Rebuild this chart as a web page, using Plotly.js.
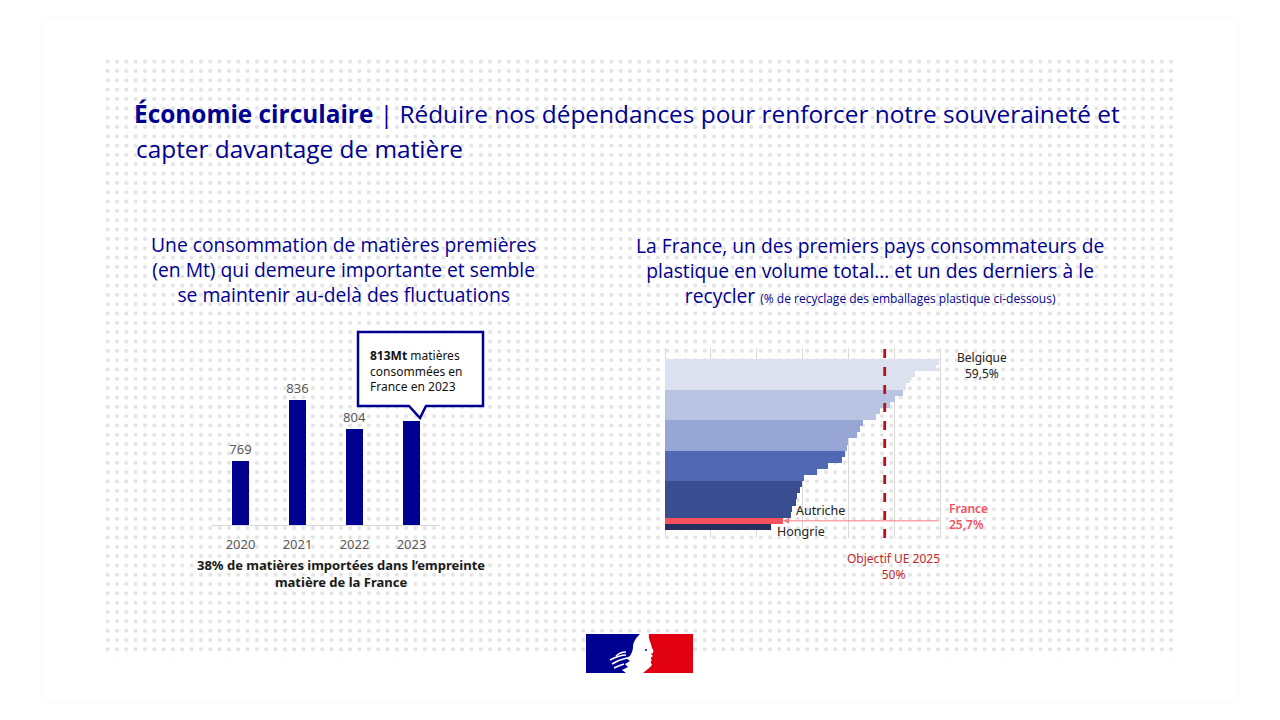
<!DOCTYPE html>
<html>
<head>
<meta charset="utf-8">
<script src="https://cdn.plot.ly/plotly-3.0.1.min.js"></script>
<style>
  html, body { margin: 0; padding: 0; background: #ffffff; }
  #wrap { position: relative; width: 1280px; height: 720px; overflow: hidden; background: #ffffff; }
  #frame { position: absolute; left: 44px; top: 20px; width: 1192px; height: 680px;
           box-shadow: 0 0 10px rgba(0,0,0,0.035); }
  #dots { position: absolute; left: 103px; top: 57px; width: 1074px; height: 600px;
          background-image: radial-gradient(circle at center, #e3e3e3 0, #e3e3e3 1.7px, rgba(255,255,255,0) 2.3px);
          background-size: 9.33px 9.33px; }
  #chart { position: absolute; left: 0; top: 0; width: 1280px; height: 720px; }
  #logo { position: absolute; left: 586px; top: 634px; width: 107px; height: 39px; }
</style>
</head>
<body>
<div id="wrap">
  <div id="frame"></div>
  <div id="dots"></div>
  <div id="chart"></div>
  <svg id="logo" viewBox="0 0 107 39" xmlns="http://www.w3.org/2000/svg">
    <rect x="0" y="0" width="107" height="39" fill="#ffffff"/>
    <path d="M0 0 L54 0 C50 4 47 8 47 13 C47 17 45 20 44 22 L40 24 L44 27 L39 30 L42 33 L36 36 L40 39 L0 39 Z" fill="#000091"/>
    <path d="M63 0 L107 0 L107 39 L57 39 C60 36 64 34 66 31 C65 29 64 28 66 26 C64 25 65 23 67 22 L65 20 C68 19 68 17 66 14 C65 8 62 5 63 0 Z" fill="#e1000f"/>
    <path d="M26 30 C31 27 36 25 41 24 M24 26 C30 23 35 21 40 21 M28 34 C32 32 35 31 38 30 M30 22 C33 19 37 18 40 18" stroke="#ffffff" stroke-width="1.6" fill="none"/>
    <circle cx="60" cy="16" r="1" fill="#000091"/>
  </svg>
</div>
<script>
// ---------------- DATA ----------------
// Left chart: raw material consumption (Mt)
const years = ['2020', '2021', '2022', '2023'];
const consumption = [769, 836, 804, 813];
const showValueLabel = [true, true, true, false]; // 2023 value is given in the callout instead

// Right chart: plastic packaging recycling rate (%), sorted, EU countries
const ranks = [1,2,3,4,5,6,7,8,9,10,11,12,13,14,15,16,17,18,19,20,21,22,23,24,25,26,27,28];
const recyclingRates = [59.5, 59.0, 54.3, 53.3, 52.5,
                        51.8, 50.0, 48.9, 46.7, 46.0,
                        43.1, 42.4, 41.7, 39.9, 39.5,
                        39.1, 38.4, 35.5, 33.0, 30.3,
                        29.7, 29.3, 28.8, 28.4, 27.7, 27.4,
                        25.7, 23.0];
const countryNames = ['Belgique','','','','','','','','','','','','','','','','','','','','','','','','','Autriche','France','Hongrie'];
const bandOf = [0,0,0,0,0, 1,1,1,1,1, 2,2,2,2,2, 3,3,3,3,3, 4,4,4,4,4,4, 5, 6];
const bandColors = ['#dce1f0', '#b9c4e2', '#97a6d5', '#5169b4', '#394d91', '#f5515f', '#252f60'];
const rateLabels = ['59,5%', '25,7%'];
const objectifLabel = ['Objectif UE 2025', '50%'];
const objectifLinePos = 47.8; // position of the dashed target line as drawn in the source

// Texts
const mainTitle1 = '<b>Économie circulaire</b> | Réduire nos dépendances pour renforcer notre souveraineté et';
const mainTitle2 = 'capter davantage de matière';
const leftTitle = 'Une consommation de matières premières<br>(en Mt) qui demeure importante et semble<br>se maintenir au-delà des fluctuations';
const rightTitle = 'La France, un des premiers pays consommateurs de<br>plastique en volume total… et un des derniers à le<br>recycler <span style="font-size:12px">(% de recyclage des emballages plastique ci-dessous)</span>';
const calloutText = '<b>813Mt</b> matières<br>consommées en<br>France en 2023';
const footnoteLeft = '<b>38% de matières importées dans l’empreinte<br>matière de la France</b>';

// ---------------- HELPERS ----------------
const W = 1280, H = 720;
const px = x => x / W;
const py = y => 1 - y / H;
const NAVY = '#000091';
const TITLE_FONT = 'Open Sans, Noto Sans, sans-serif';
const BODY_FONT = 'Noto Sans, Open Sans, sans-serif';

// ---------------- TRACES ----------------
const leftBars = {
  type: 'bar', x: years, y: consumption, xaxis: 'x', yaxis: 'y',
  marker: { color: NAVY }, width: 0.31,
  text: consumption.map((v, i) => showValueLabel[i] ? String(v) : ''), textposition: 'outside', cliponaxis: false,
  constraintext: 'none',
  textfont: { family: BODY_FONT, size: 13, color: '#595959' },
  hoverinfo: 'x+y', showlegend: false
};

const rightBars = {
  type: 'bar', orientation: 'h', x: recyclingRates, y: ranks, xaxis: 'x2', yaxis: 'y2',
  marker: { color: bandOf.map(b => bandColors[b]), line: { width: 0 } },
  width: 1, hovertext: countryNames, hoverinfo: 'text+x', showlegend: false
};

// ---------------- LAYOUT ----------------
const iFr = countryNames.indexOf('France');
const iAt = countryNames.indexOf('Autriche');
const iHu = countryNames.indexOf('Hongrie');

const annotations = [
  // main title line 2
  { xref: 'paper', yref: 'paper', x: px(134), y: py(149), xanchor: 'left', yanchor: 'middle', showarrow: false,
    text: mainTitle2, font: { family: TITLE_FONT, size: 24.4, color: NAVY } },
  // left title
  { xref: 'paper', yref: 'paper', x: px(343), y: py(269), xanchor: 'center', yanchor: 'middle', showarrow: false,
    text: leftTitle, font: { family: TITLE_FONT, size: 19.3, color: NAVY } },
  // right title
  { xref: 'paper', yref: 'paper', x: px(870), y: py(270), xanchor: 'center', yanchor: 'middle', showarrow: false,
    text: rightTitle, font: { family: TITLE_FONT, size: 19.3, color: NAVY } },
  // callout text
  { xref: 'paper', yref: 'paper', x: px(368), y: py(371), xanchor: 'left', yanchor: 'middle', showarrow: false, align: 'left',
    text: calloutText, font: { family: BODY_FONT, size: 12, color: '#111111' } },
  // footnote left
  { xref: 'paper', yref: 'paper', x: px(341), y: py(573), xanchor: 'center', yanchor: 'middle', showarrow: false,
    text: footnoteLeft, font: { family: BODY_FONT, size: 13, color: '#1a1a1a' } },
  // Belgique label
  { xref: 'paper', yref: 'paper', x: px(982), y: py(365), xanchor: 'center', yanchor: 'middle', showarrow: false,
    text: countryNames[0] + '<br>' + rateLabels[0], font: { family: BODY_FONT, size: 12, color: '#222222' } },
  // Autriche
  { xref: 'paper', yref: 'paper', x: px(794), y: py(510), xanchor: 'left', yanchor: 'middle', showarrow: false,
    text: countryNames[iAt], font: { family: BODY_FONT, size: 12.5, color: '#222222' } },
  // Hongrie
  { xref: 'paper', yref: 'paper', x: px(775), y: py(531), xanchor: 'left', yanchor: 'middle', showarrow: false,
    text: countryNames[iHu], font: { family: BODY_FONT, size: 12.5, color: '#222222' } },
  // France label
  { xref: 'paper', yref: 'paper', x: px(947), y: py(516), xanchor: 'left', yanchor: 'middle', showarrow: false, align: 'left',
    text: countryNames[iFr] + '<br>' + rateLabels[1], font: { family: BODY_FONT, size: 12, color: '#f5515f', weight: 600 } },
  // France arrow
  { xref: 'x2', yref: 'y2', x: recyclingRates[iFr], y: ranks[iFr], text: '', showarrow: true,
    axref: 'pixel', ayref: 'pixel', ax: 157, ay: 0, arrowhead: 2, arrowsize: 1.2, arrowwidth: 1, arrowcolor: '#f07c84', standoff: 0 },
  // Objectif label
  { xref: 'paper', yref: 'paper', x: px(893), y: py(566), xanchor: 'center', yanchor: 'middle', showarrow: false,
    text: objectifLabel.join('<br>'), font: { family: BODY_FONT, size: 12, color: '#c1272d' } }
];

// callout box with tail (pixel → paper)
const P = (x, y) => `${px(x)},${py(y)}`;
const calloutPath = `M${P(358,332)} L${P(483,332)} L${P(483,406)} L${P(426,406)} L${P(420,418)} L${P(409,406)} L${P(358,406)} Z`;

const shapes = [
  { type: 'path', xref: 'paper', yref: 'paper', path: calloutPath,
    fillcolor: '#ffffff', line: { color: NAVY, width: 2.5 } },
  { type: 'line', xref: 'x2', yref: 'paper', x0: objectifLinePos, x1: objectifLinePos, y0: py(538), y1: py(340),
    line: { color: '#b5121b', width: 2.8, dash: 'dash' } }
];

const layout = {
  width: W, height: H,
  margin: { l: 0, r: 0, t: 0, b: 0 },
  paper_bgcolor: 'rgba(0,0,0,0)', plot_bgcolor: 'rgba(0,0,0,0)',
  title: { text: mainTitle1, x: px(134), xanchor: 'left', xref: 'paper', y: py(114), yanchor: 'middle', yref: 'paper',
           font: { family: TITLE_FONT, size: 24.4, color: NAVY } },
  showlegend: false,
  bargap: 0,
  xaxis: { domain: [px(212), px(440)], anchor: 'y', type: 'category', range: [-0.5, 3.5],
           showline: true, linecolor: '#d9d9d9', linewidth: 1, ticks: '', showgrid: false, zeroline: false,
           ticklabelstandoff: 7,
           tickfont: { family: BODY_FONT, size: 13, color: '#595959' }, fixedrange: true },
  yaxis: { domain: [py(525), py(330)], anchor: 'x', range: [700, 911.7], visible: false, fixedrange: true },
  xaxis2: { domain: [px(665), px(987)], anchor: 'y2', range: [0, 70.05], dtick: 10, tick0: 0,
            showgrid: true, gridcolor: '#d9d9d9', gridwidth: 1, zeroline: true, zerolinecolor: '#d9d9d9', zerolinewidth: 1,
            showticklabels: false, ticks: '', showline: false, fixedrange: true },
  yaxis2: { domain: [py(538), py(348)], anchor: 'x2', range: [29.81, -1.3], visible: false, fixedrange: true },
  annotations: annotations,
  shapes: shapes
};

Plotly.newPlot('chart', [leftBars, rightBars], layout, { displayModeBar: false, staticPlot: true });
</script>
</body>
</html>
